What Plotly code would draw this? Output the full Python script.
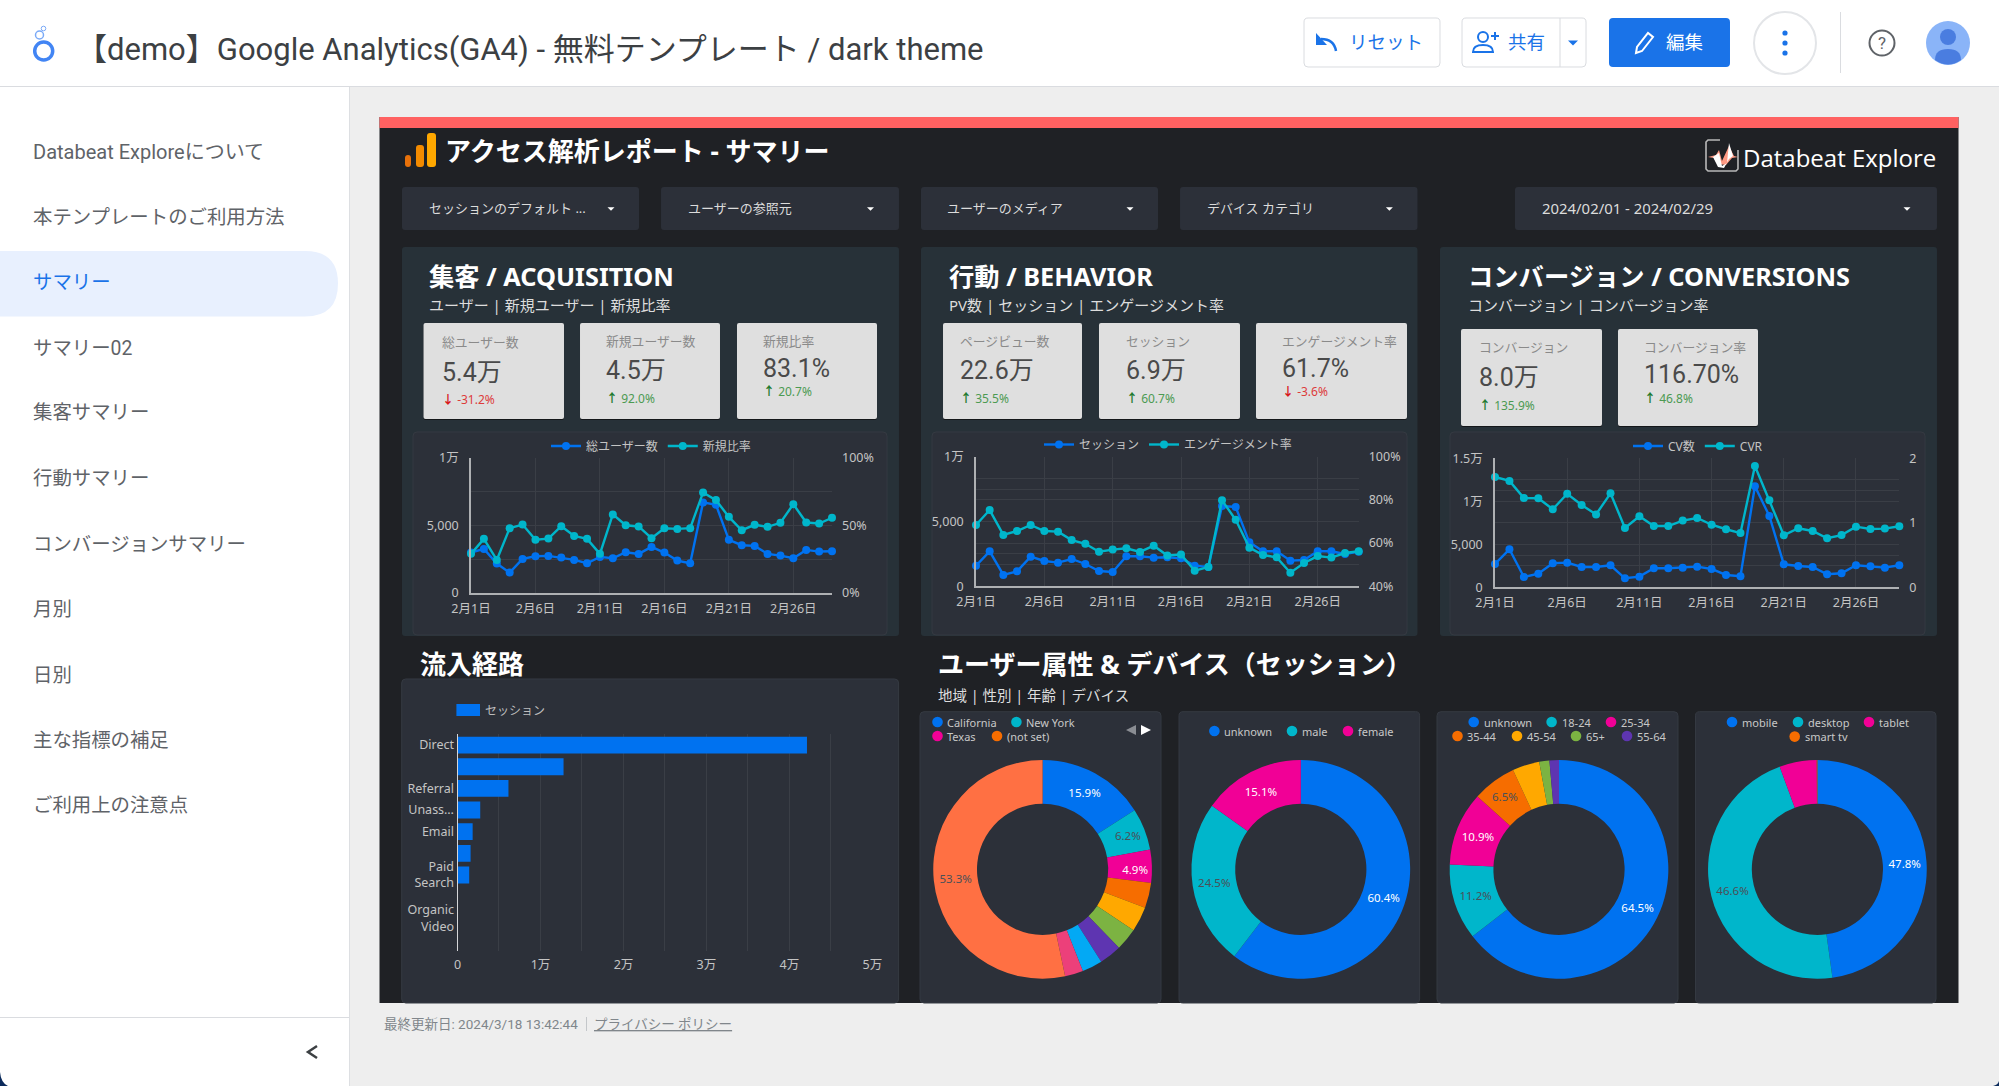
import plotly.graph_objects as go

W, H = 1999, 1086
JP = "Noto Sans, Noto Sans CJK JP"
UI = "Roboto, Noto Sans CJK JP"
NUM = "Roboto, Noto Sans CJK JP"

# ---------- data ----------
days = [f"2月{d}日" for d in range(1, 30)]
users = [2995,3267,2178,1510,2525,2723,2748,2624,2450,2203,2673,2574,3020,2896,3416,2995,2401,2203,6708,6535,3936,3540,3490,2896,2772,2574,3193,3069,3094]
new_ratio = [29,40.1,24.5,48,50.7,39.4,40.3,49.5,42.3,40.1,29,58.2,50.2,49.3,40.6,48,47.5,48,74.5,68.8,56.4,46.5,50.5,49,52,65.8,52.2,51.5,55.7]
sessions = [1594,2699,874,1157,2288,1954,1825,2108,1722,1183,1105,2314,2314,2211,2236,2159,1594,1491,6195,6118,3393,2699,2699,1979,2031,2699,2699,2494,2674]
engagement = [68.4,75.3,63.8,65.6,68.4,65.6,65.3,61.4,59.7,56,57,57.6,55.9,58.8,54.3,54.7,47.2,48.9,79.8,70.8,57.9,54.5,53.4,46.3,50.8,54,53.3,55.4,56.2]
cv_count = [2713,4419,1202,1589,2791,2868,2364,2364,2558,1047,1240,2209,2209,2287,2403,2132,1434,1279,11744,8295,2674,2481,2364,1512,1628,2558,2442,2287,2558]
cvr = [1.71,1.65,1.385,1.38,1.21,1.45,1.276,1.13,1.457,0.92,1.10,0.95,0.95,1.034,1.075,0.97,0.90,0.84,1.88,1.35,0.806,0.915,0.873,0.76,0.81,0.94,0.904,0.91,0.946]

channels = ["Direct","Organic Search","Referral","Unassigned","Email","Organic Social","Paid Search","Affiliates","Organic Video","Display"]
channel_labels = ["Direct","","Referral","Unass…","Email","","Paid<br>Search","","Organic<br>Video",""]
channel_sessions = [42116,12780,6141,2739,1826,1577,1411,0,0,0]

region_labels = ["California","New York","Texas","(not set)","Florida","Illinois","Virginia","Washington","Georgia","others"]
region_values = [15.9,6.2,4.9,3.7,3.7,3.3,3.3,3.0,2.7,53.3]
gender_labels = ["unknown","male","female"]
gender_values = [60.4,24.5,15.1]
age_labels = ["unknown","18-24","25-34","35-44","45-54","65+","55-64"]
age_values = [64.5,11.2,10.9,6.5,4.0,1.5,1.4]
device_labels = ["mobile","desktop","tablet","smart tv"]
device_values = [47.8,46.6,5.5,0.1]

PIE_COLORS = ["#0072f0","#00b6cb","#f10096","#f66d00","#ffa800","#7cb342","#5e35b1","#03a9f4","#ec407a","#ff7043"]
BLUE, TEAL = "#0072f0", "#00b6cb"

# ---------- helpers ----------
fx = lambda x: x / W
fy = lambda y: 1 - y / H
shapes, annos = [], []

def path_shape(d, fill=None, line=None, lw=1):
    s = dict(type="path", path=d, xref="paper", yref="paper", layer="below",
             line=dict(color=line or "rgba(0,0,0,0)", width=lw if line else 0))
    if fill:
        s["fillcolor"] = fill
    shapes.append(s)

def P(pts, close=False):
    d = "M" + " L".join(f"{fx(x):.5f},{fy(y):.5f}" for x, y in pts)
    return d + (" Z" if close else "")

def rr_path(x0, y0, x1, y1, r):
    c = lambda x, y: f"{fx(x):.5f},{fy(y):.5f}"
    return (f"M{c(x0+r,y0)} L{c(x1-r,y0)} Q{c(x1,y0)} {c(x1,y0+r)} L{c(x1,y1-r)} Q{c(x1,y1)} {c(x1-r,y1)} "
            f"L{c(x0+r,y1)} Q{c(x0,y1)} {c(x0,y1-r)} L{c(x0,y0+r)} Q{c(x0,y0)} {c(x0+r,y0)} Z")

def rr(x0, y0, x1, y1, r=3, fill=None, line=None, lw=1):
    path_shape(rr_path(x0, y0, x1, y1, r), fill, line, lw)

def rect(x0, y0, x1, y1, fill):
    shapes.append(dict(type="rect", xref="paper", yref="paper", layer="below", x0=fx(x0), x1=fx(x1),
                       y0=fy(y1), y1=fy(y0), fillcolor=fill, line=dict(width=0)))

def circ(cx, cy, r, fill=None, line=None, lw=1):
    s = dict(type="circle", xref="paper", yref="paper", layer="below", x0=fx(cx-r), x1=fx(cx+r),
             y0=fy(cy+r), y1=fy(cy-r), line=dict(color=line or "rgba(0,0,0,0)", width=lw if line else 0))
    if fill:
        s["fillcolor"] = fill
    shapes.append(s)

def txt(x, y, s, size=13, color="#dddddd", anchor="left", font=JP):
    annos.append(dict(x=fx(x), y=fy(y), xref="paper", yref="paper", text=s, showarrow=False, xanchor=anchor,
                      yanchor="middle", borderpad=0, borderwidth=0,
                      font=dict(size=size, color=color, family=font)))

def caret(cx, cy, color="#ffffff", w=3.5, h=3.5):
    path_shape(P([(cx-w, cy-h/2), (cx+w, cy-h/2), (cx, cy+h/2)], True), fill=color)

# ---------- page chrome ----------
rect(0, 0, W, 86, "#ffffff")
rect(0, 86, W, 87, "#dadce0")
rect(0, 87, 349, H, "#ffffff")
rect(349, 87, 350, H, "#dddfe2")
rect(0, 1017, 349, 1018, "#dadce0")
c = lambda x, y: f"{fx(x):.5f},{fy(y):.5f}"
path_shape(f"M{c(0,251)} L{c(305,251)} Q{c(338,251)} {c(338,283.5)} Q{c(338,316.5)} {c(305,316.5)} L{c(0,316.5)} Z", fill="#e8f0fe")
path_shape(P([(317, 1046), (308, 1052), (317, 1058)]), line="#3c4043", lw=2.5)
# window corners
path_shape(f"M{c(0,1072)} Q{c(1,1083)} {c(8,1086)} L{c(0,1086)} Z", fill="#0b2a5b")
path_shape(f"M{c(1999,1081)} Q{c(1998,1085)} {c(1993,1086)} L{c(1999,1086)} Z", fill="#0b2a5b")

# header logo
circ(43.7, 51, 9, line="#4285f4", lw=3.5)
circ(39.5, 35, 4, line="#7baaf7", lw=1.5)
circ(43.5, 28.5, 2.3, line="#7baaf7", lw=1)
txt(76, 49, "【demo】Google Analytics(GA4) - 無料テンプレート / dark theme", 31, "#3c4043", font=UI)

# header buttons
rr(1304, 18, 1440, 67, 4, "#ffffff", "#dadce0")
path_shape(f"M{c(1336,51)} Q{c(1334,39)} {c(1321,39)}", line="#1a73e8", lw=2.5)
path_shape(P([(1316, 33), (1316, 45), (1327, 45)], True), fill="#1a73e8")
txt(1349, 43, "リセット", 18.5, "#1a73e8", font=UI)
rr(1462, 18, 1586, 67, 4, "#ffffff", "#dadce0")
rect(1559.5, 18, 1560.5, 67, "#dadce0")
circ(1483, 37, 5, line="#1a73e8", lw=2)
path_shape(f"M{c(1473,52)} Q{c(1473,45)} {c(1483,45)} Q{c(1493,45)} {c(1493,52)} Z", line="#1a73e8", lw=2)
path_shape(P([(1491, 36), (1499, 36)]), line="#1a73e8", lw=2)
path_shape(P([(1495, 32), (1495, 40)]), line="#1a73e8", lw=2)
txt(1508, 43, "共有", 18.5, "#1a73e8", font=UI)
caret(1573, 43, "#1a73e8", 5, 5)
rr(1609, 18, 1730, 67, 4, "#1a73e8")
path_shape(P([(1636, 53), (1637, 47), (1648, 33), (1653, 37), (1642, 51)], True), line="#ffffff", lw=2)
txt(1666, 43, "編集", 18.5, "#ffffff", font=UI)
circ(1785, 43, 31, "#ffffff", "#e3e5e8", 2)
for dy in (-10, 0, 10):
    circ(1785, 43 + dy, 2.6, "#1a73e8")
rect(1840, 12, 1841, 73, "#dadce0")
circ(1882, 43, 12.5, line="#5f6368", lw=2)
txt(1882, 43, "?", 17, "#5f6368", "center", UI)
circ(1948, 43, 22, "#8ab4f8")
circ(1948, 37, 8, "#4a7de0")
path_shape(f"M{c(1935,60)} Q{c(1935,49)} {c(1948,49)} Q{c(1961,49)} {c(1961,60)} Q{c(1948,69)} {c(1935,60)} Z", fill="#4a7de0")

# sidebar
menu = ["Databeat Exploreについて","本テンプレートのご利用方法","サマリー","サマリー02","集客サマリー","行動サマリー",
        "コンバージョンサマリー","月別","日別","主な指標の補足","ご利用上の注意点"]
menu_y = [152,217,283,348,413,479,544,609,675,740,805]
for m, y in zip(menu, menu_y):
    txt(33, y, m, 20 if m.startswith("Data") else 19.4, "#1a73e8" if m == "サマリー" else "#5f6368", font=UI)

# footer
txt(384, 1024, "最終更新日: 2024/3/18 13:42:44", 13.5, "#80868b", font=UI)
rect(586, 1017, 587, 1031, "#c4c7ca")
txt(594, 1024, "<u>プライバシー ポリシー</u>", 13.5, "#80868b", font=UI)

# dark report panel
rect(379.5, 117, 1958.5, 1003, "#1f2125")
rect(379.5, 117, 1958.5, 128, "#ff6161")

# GA icon
rr(405, 155, 411, 167, 3, "#e8710a")
rr(416, 145, 424, 167, 3, "#f38b00")
rr(427, 133, 436, 167, 3, "#ffa800")
txt(445, 151, "<b>アクセス解析レポート - サマリー</b>", 26, "#ffffff")

# Databeat logo
path_shape(P([(1720, 140), (1708, 140), (1706, 142), (1706, 169), (1708, 171), (1736, 171), (1738, 169), (1738, 150)]),
           line="#b8b8b8", lw=1.6)
path_shape(P([(1708, 157), (1716, 155), (1719, 150), (1722, 161), (1729, 146), (1734, 156), (1738, 157),
              (1732, 158), (1726, 165), (1718, 164), (1714, 158)], True), fill="#ff9a84")
path_shape(P([(1713, 157), (1719, 153), (1722, 166), (1727, 163), (1729, 143), (1733, 156), (1729, 159), (1724, 168), (1718, 167)], True), fill="#ffffff")
txt(1743, 157, "Databeat Explore", 24, "#ffffff", font="Open Sans")

# filters
filters = [(402,639,"セッションのデフォルト ...",428.6,611),(661,899,"ユーザーの参照元",687.5,870.5),
           (921,1158,"ユーザーのメディア",947,1130),(1180,1417.5,"デバイス カテゴリ",1207,1389.4),
           (1515,1937,"2024/02/01 - 2024/02/29",1542,1907)]
for x0, x1, t, tx, cx in filters:
    rr(x0, 187, x1, 230, 3, "#2c3039")
    txt(tx, 208.5, t, 14.9 if t[0] == "2" else 13, "#dcdcdc")
    caret(cx, 209)

# sections
sections = [(402,899,429,"集客 / ACQUISITION","ユーザー | 新規ユーザー | 新規比率"),
            (921,1417.5,949,"行動 / BEHAVIOR","PV数 | セッション | エンゲージメント率"),
            (1440,1937,1467.5,"コンバージョン / CONVERSIONS","コンバージョン | コンバージョン率")]
for x0, x1, tx, t, st in sections:
    rr(x0, 247, x1, 636, 3, "#273138")
    txt(tx, 276, f"<b>{t}</b>", 25.3, "#ffffff")
    txt(tx, 305, st, 15, "#dddddd")

# kpi cards
GREEN, RED = "#4c9a52", "#dd3b3b"
cards = [(423.5,564,323,419,442,342,"総ユーザー数",372,"5.4万",399,"↓","-31.2%",RED),
         (580,720,323,419,606,341,"新規ユーザー数",370,"4.5万",398,"↑","92.0%",GREEN),
         (737,877,323,419,763,341,"新規比率",368,"83.1%",392,"↑","20.7%",GREEN),
         (943,1082,323,419,960,341,"ページビュー数",370,"22.6万",398,"↑","35.5%",GREEN),
         (1099,1240,323,419,1125.6,341,"セッション",370,"6.9万",398,"↑","60.7%",GREEN),
         (1256,1407,323,419,1282,341,"エンゲージメント率",368,"61.7%",392,"↓","-3.6%",RED),
         (1461,1602,329,426,1479,347,"コンバージョン",377,"8.0万",405,"↑","135.9%",GREEN),
         (1618,1758,329,426,1644,347,"コンバージョン率",374,"116.70%",398,"↑","46.8%",GREEN)]
for x0, x1, y0, y1, tx, ly, lab, vy, val, dy, arr, delta, col in cards:
    rr(x0, y0 + 1, x1, y1 + 1, 2, "#14171a")
    rr(x0, y0, x1, y1, 2, "#dfdfdf")
    txt(tx, ly, lab, 12.8, "#8a8a8a")
    txt(tx, vy, val, 25, "#4a4a4a", font=NUM)
    dark = "#1e7a2e" if col == GREEN else "#d81b1b"
    txt(tx, dy, f'<b><span style="color:{dark}">{arr}</span></b> {delta}', 12, col)

# chart panels
for x0, y0, x1, y1 in [(413,432,887,635),(932,432,1407,635),(1450,432,1925,635),(401.7,679,898.6,1003),
                       (920,711.7,1161,1003),(1179,711.7,1419.6,1003),(1437,711.7,1678,1003),(1695.5,711.7,1936,1003)]:
    rr(x0, y0, x1, y1, 4, "#2c3039", "#353a42", 1)

txt(419.6, 664, "<b>流入経路</b>", 26, "#ffffff")
txt(938, 664, "<b>ユーザー属性 & デバイス（セッション）</b>", 26, "#ffffff")
txt(938, 695, "地域 | 性別 | 年齢 | デバイス", 14.5, "#dddddd")

# bar legend
rect(456.4, 704, 480, 716, BLUE)
txt(485, 710, "セッション", 12, "#bdbdbd")

# donut legends (circle + real text)
pie_legends = [
    [(937.5,722,947,0,0),(1016.4,722,1026.4,1,1),(937.5,736,947,2,2),(997,736,1006.8,3,3)],
    [(1214.4,731,1224.4,0,0),(1292,731,1302,1,1),(1348,731,1358,2,2)],
    [(1473.7,722,1483.7,0,0),(1551.6,722,1561.5,1,1),(1611,722,1621,2,2),(1457.5,736,1467,3,3),
     (1517,736,1527,4,4),(1576,736,1586,5,5),(1627,736,1637,6,6)],
    [(1732,722,1742,0,0),(1798,722,1808,1,1),(1869,722,1879,2,2),(1794.7,736.6,1804.7,3,3)],
]
for names, items in zip([region_labels, gender_labels, age_labels, device_labels], pie_legends):
    for cx, cy, tx, ci, ni in items:
        circ(cx, cy, 5.3, PIE_COLORS[ci])
        txt(tx, cy, names[ni], 11, "#c8c8c8")
path_shape(P([(1136, 725), (1136, 735), (1126, 730)], True), fill="#8a8d93")
path_shape(P([(1141, 725), (1141, 735), (1151, 730)], True), fill="#ffffff")

# ---------- figure ----------
fig = go.Figure()

def dom_x(a, b): return [fx(a), fx(b)]
def dom_y(top, bottom): return [fy(bottom), fy(top)]

TICKF = dict(size=12.5, color="#c4c4c4", family=JP)
GRID, AXIS = "#3a3e46", "#aeb0b3"
xticks = [days[i] for i in range(0, 29, 5)]

def line_pair(xa, ya, yb, lname, rname, lvals, rvals, x0, x1, top, bottom,
              ltv, ltt, rtv, rtt, rrange, rgrid, legend_name, legend_x, legend_y):
    fig.add_trace(go.Scatter(x=days, y=lvals, name=lname, mode="lines+markers", xaxis=xa, yaxis=ya,
                             line=dict(color=BLUE, width=2.4), marker=dict(size=8, color=BLUE),
                             cliponaxis=False, legend=legend_name))
    fig.add_trace(go.Scatter(x=days, y=rvals, name=rname, mode="lines+markers", xaxis=xa, yaxis=yb,
                             line=dict(color=TEAL, width=2.4), marker=dict(size=8, color=TEAL),
                             cliponaxis=False, legend=legend_name))
    xk = "xaxis" + xa[1:]; yk = "yaxis" + ya[1:]; yk2 = "yaxis" + yb[1:]
    fig.layout[xk] = dict(domain=dom_x(x0, x1), anchor=ya, type="category", range=[0, 28], tickmode="array",
                          tickvals=xticks, ticktext=xticks, showgrid=True, gridcolor=GRID, showline=True,
                          linecolor=AXIS, linewidth=1.5, ticks="", tickfont=TICKF, zeroline=False, ticklabelstandoff=3,
                          automargin=False)
    fig.layout[yk] = dict(domain=dom_y(top, bottom), anchor=xa, range=[ltv[0], ltv[-1]], tickmode="array", tickvals=ltv,
                          ticktext=ltt, showgrid=True, gridcolor=GRID, showline=True, linecolor=AXIS, linewidth=1.5,
                          ticks="", tickfont=TICKF, zeroline=False, ticklabelstandoff=8, automargin=False)
    fig.layout[yk2] = dict(domain=dom_y(top, bottom), anchor=xa, overlaying=ya, side="right", range=rrange,
                           tickmode="array", tickvals=rtv, ticktext=rtt, showgrid=rgrid, gridcolor=GRID,
                           showline=False, ticks="", tickfont=TICKF, zeroline=False, ticklabelstandoff=9, automargin=False)
    fig.layout[legend_name] = dict(orientation="h", x=fx(legend_x), y=fy(legend_y), xanchor="center", yanchor="middle",
                                   bgcolor="rgba(0,0,0,0)", font=dict(size=12, color="#c4c4c4", family=JP),
                                   itemwidth=30)

line_pair("x", "y", "y2", "総ユーザー数", "新規比率", users, new_ratio, 471, 832, 458, 593,
          [0,2500,5000,7500,10000], ["0","","5,000","","1万"], [0,25,50,75,100], ["0%","","50%","","100%"],
          [0,100], False, "legend", 651, 446)
line_pair("x2", "y3", "y4", "セッション", "エンゲージメント率", sessions, engagement, 976, 1358.7, 456.7, 586.3,
          [0,2500,5000,7500,10000], ["0","","5,000","","1万"], [40,50,60,70,80,90,100], ["40%","","60%","","80%","","100%"],
          [40,100], True, "legend2", 1168, 444.5)
line_pair("x3", "y5", "y6", "CV数", "CVR", cv_count, cvr, 1495, 1899.3, 458.3, 587.3,
          [0,2500,5000,7500,10000,12500,15000], ["0","","5,000","","1万","","1.5万"], [0,0.5,1,1.5,2], ["0","","1","","2"],
          [0,2], True, "legend3", 1698, 446)

# bars
fig.add_trace(go.Bar(y=channels, x=channel_sessions, orientation="h", name="セッション", xaxis="x4", yaxis="y7",
                     marker=dict(color=BLUE, line=dict(width=0)), showlegend=False))
fig.update_layout(
    xaxis4=dict(domain=dom_x(457.5, 872.4), anchor="y7", range=[0, 50000], tickmode="array",
                tickvals=list(range(0, 50001, 5000)), ticktext=["0","","1万","","2万","","3万","","4万","","5万"],
                showgrid=True, gridcolor=GRID, zeroline=False, showline=False, ticks="", tickfont=TICKF,
                ticklabelstandoff=5, automargin=False),
    yaxis7=dict(domain=dom_y(734.3, 950.7), anchor="x4", type="category", categoryorder="array", categoryarray=channels,
                range=[9.5, -0.5], tickmode="array", tickvals=channels, ticktext=channel_labels, showgrid=False,
                showline=True, linecolor="#d5d6d8", linewidth=1, ticks="", tickfont=TICKF, zeroline=False, automargin=False),
    bargap=0.22,
)

# donuts
def donut(labels, values, colors, cx, dark_idx, min_show):
    text = [f"{v:.1f}%" if v >= min_show else "" for v in values]
    tcol = ["#4a5058" if i in dark_idx else "#ffffff" for i in range(len(values))]
    r = 109.35
    fig.add_trace(go.Pie(labels=labels, values=values, hole=0.6, sort=False, direction="clockwise", rotation=0,
                         marker=dict(colors=colors[:len(values)], line=dict(width=0)), text=text, textinfo="text",
                         textposition="inside", insidetextorientation="horizontal",
                         insidetextfont=dict(size=11.5, color=tcol, family=JP), showlegend=False,
                         domain=dict(x=dom_x(cx - r, cx + r), y=dom_y(869.35 - r, 869.35 + r))))

donut(region_labels, region_values, PIE_COLORS, 1042.6, {1, 9}, 4.5)
donut(gender_labels, gender_values, PIE_COLORS, 1300.8, {1}, 4.5)
donut(age_labels, age_values, PIE_COLORS, 1559, {1, 3}, 4.5)
donut(device_labels, device_values, PIE_COLORS, 1817.4, {1}, 10)

fig.update_layout(template="none", width=W, height=H, margin=dict(l=0, r=0, t=0, b=0, pad=0), paper_bgcolor="#eeeeee",
                  plot_bgcolor="rgba(0,0,0,0)", shapes=shapes, annotations=annos, autosize=False,
                  font=dict(family=JP), hovermode=False)

fig.write_html("out.html", config=dict(displayModeBar=False),
               post_script="document.documentElement.style.margin='0';document.body.style.margin='0';document.body.style.overflow='hidden';")
